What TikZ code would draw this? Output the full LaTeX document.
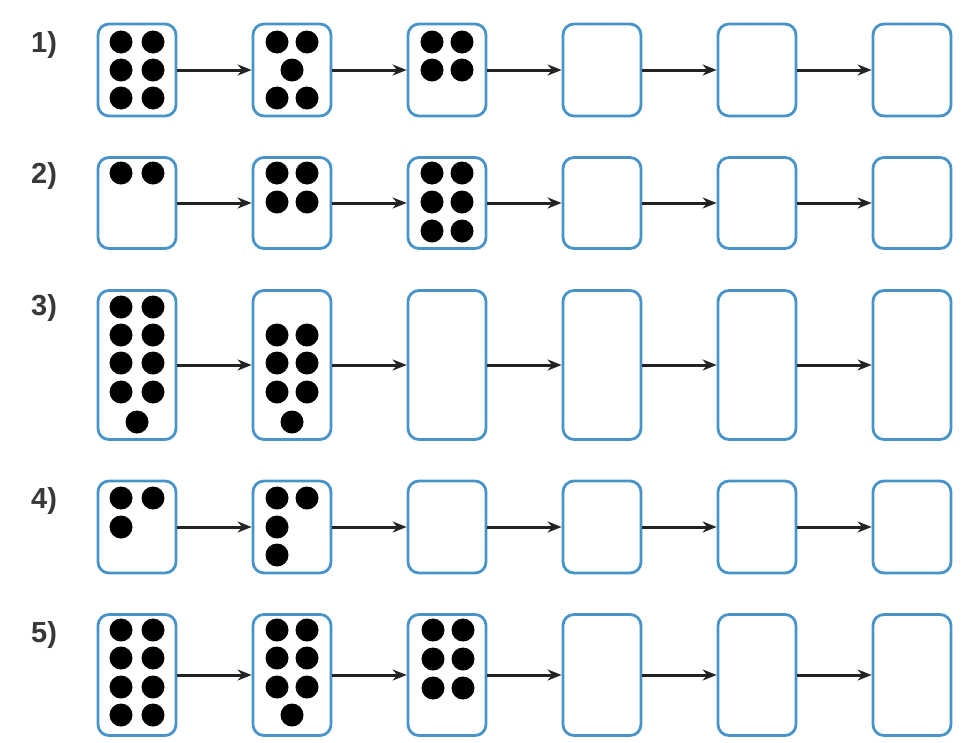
\documentclass[tikz,border=0pt]{standalone}
\usepackage{fontspec}
\setmainfont{Liberation Sans}
\usetikzlibrary{arrows.meta}
\definecolor{boxblue}{RGB}{72,148,200}
\definecolor{arrowgray}{RGB}{35,35,35}
\begin{document}
\begin{tikzpicture}[x=1pt,y=-1pt,
  cell/.style={draw=boxblue, line width=2.8pt, rounded corners=11pt, minimum width=78pt, inner sep=0pt, fill=white},
  link/.style={draw=arrowgray, line width=3pt, -{Stealth[length=14pt,width=11pt]}},
  lbl/.style={font=\fontsize{29}{29}\selectfont\bfseries, anchor=base west, text=black!78, inner sep=0pt}]
\useasboundingbox (0,0) rectangle (973,742);
\fill[white] (0,0) rectangle (973,742);
\foreach \r/\y/\h in {1/70/92, 2/203/91, 3/365/149, 4/527/92, 5/675/121} {
  \foreach \c/\x in {1/137,2/292,3/447,4/602,5/757,6/912} {
    \node[cell, minimum height=\h pt] (r\r-\c) at (\x,\y) {};
  }
  \foreach \c [evaluate=\c as \n using int(\c+1)] in {1,...,5} {
    \draw[link] (r\r-\c.east) -- (r\r-\n.west);
  }
}
\node[lbl] (l1) at (31,52) {1)};
\node[lbl] (l2) at (31,183) {2)};
\node[lbl] (l3) at (31,315) {3)};
\node[lbl] (l4) at (31,508) {4)};
\node[lbl] (l5) at (31,642) {5)};
\foreach \x/\y in {
  121/42,153/42,121/70,153/70,121/98,153/98,
  277/42,307/42,292/70,277/98,307/98,
  432/42,462/42,432/70,462/70,
  121/173,153/173,
  277/173,307/173,277/202,307/202,
  432/173,462/173,432/202,462/202,432/231,462/231,
  121/307,153/307,121/335,153/335,121/363,153/363,121/392,153/392,137/422,
  277/335,307/335,277/363,307/363,277/392,307/392,292/422,
  121/498,153/498,121/527,
  277/498,307/498,277/527,277/555,
  121/630,153/630,121/658,153/658,121/687,153/687,121/715,153/715,
  277/630,307/630,277/658,307/658,277/687,307/687,292/715,
  433/630,463/630,433/659,463/659,433/688,463/688}
  \fill[black] (\x,\y) circle[radius=11.5pt];
\end{tikzpicture}
\end{document}
